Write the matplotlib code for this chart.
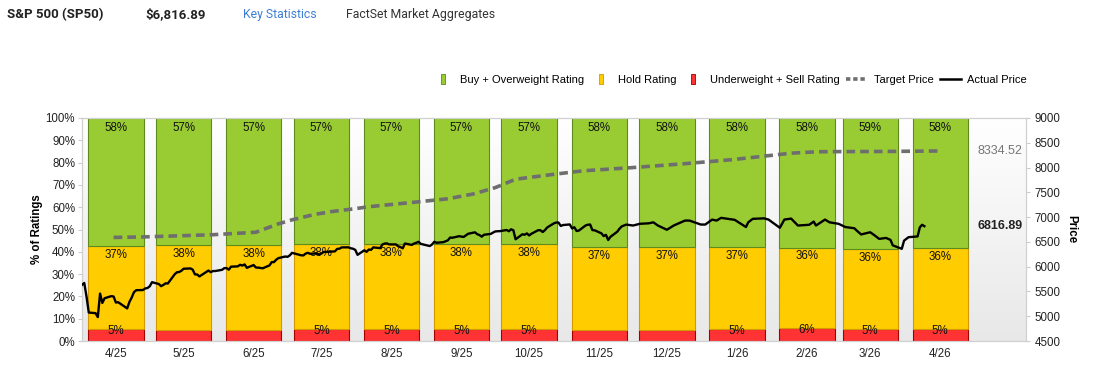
import matplotlib
matplotlib.use("Agg")
import matplotlib.pyplot as plt
import matplotlib.dates as mdates
from matplotlib.colors import LinearSegmentedColormap
from matplotlib.lines import Line2D
import numpy as np
import pandas as pd

# ratings per month (% of analysts)
month_labels = ["4/25", "5/25", "6/25", "7/25", "8/25", "9/25", "10/25",
                "11/25", "12/25", "1/26", "2/26", "3/26", "4/26"]
buy_pct = [57.6, 57.1, 57.1, 56.6, 56.6, 56.6, 56.6, 58.0, 58.0, 58.0, 58.1, 58.6, 58.4]
hold_pct = [37.2, 38.0, 38.1, 38.2, 38.2, 38.2, 38.2, 37.2, 37.2, 36.8, 36.2, 36.2, 36.4]
sell_pct = [5.2, 4.9, 4.8, 5.2, 5.2, 5.2, 5.2, 4.8, 4.8, 5.2, 5.7, 5.2, 5.2]

# actual price
price_dates = [
    "2025-04-01", "2025-04-02", "2025-04-03", "2025-04-04", "2025-04-07", "2025-04-08",
    "2025-04-09", "2025-04-10", "2025-04-11", "2025-04-14", "2025-04-15", "2025-04-16",
    "2025-04-17", "2025-04-21", "2025-04-22", "2025-04-23", "2025-04-24", "2025-04-25",
    "2025-04-28", "2025-04-29", "2025-04-30",
    "2025-05-01", "2025-05-02", "2025-05-05", "2025-05-06", "2025-05-07", "2025-05-08",
    "2025-05-09", "2025-05-12", "2025-05-13", "2025-05-14", "2025-05-15", "2025-05-16",
    "2025-05-19", "2025-05-20", "2025-05-21", "2025-05-22", "2025-05-23", "2025-05-27",
    "2025-05-28", "2025-05-29", "2025-05-30",
    "2025-06-02", "2025-06-03", "2025-06-04", "2025-06-05", "2025-06-06", "2025-06-09",
    "2025-06-10", "2025-06-11", "2025-06-12", "2025-06-13", "2025-06-16", "2025-06-17",
    "2025-06-18", "2025-06-20", "2025-06-23", "2025-06-24", "2025-06-25", "2025-06-26",
    "2025-06-27", "2025-06-30",
    "2025-07-01", "2025-07-02", "2025-07-03", "2025-07-07", "2025-07-08", "2025-07-09",
    "2025-07-10", "2025-07-11", "2025-07-14", "2025-07-15", "2025-07-16", "2025-07-17",
    "2025-07-18", "2025-07-21", "2025-07-22", "2025-07-23", "2025-07-24", "2025-07-25",
    "2025-07-28", "2025-07-29", "2025-07-30", "2025-07-31",
    "2025-08-01", "2025-08-04", "2025-08-05", "2025-08-06", "2025-08-07", "2025-08-08",
    "2025-08-11", "2025-08-12", "2025-08-13", "2025-08-14", "2025-08-15", "2025-08-18",
    "2025-08-19", "2025-08-20", "2025-08-21", "2025-08-22", "2025-08-25", "2025-08-26",
    "2025-08-27", "2025-08-28", "2025-08-29",
    "2025-09-02", "2025-09-03", "2025-09-04", "2025-09-05", "2025-09-08", "2025-09-09",
    "2025-09-10", "2025-09-11", "2025-09-12", "2025-09-15", "2025-09-16", "2025-09-17",
    "2025-09-18", "2025-09-19", "2025-09-22", "2025-09-23", "2025-09-24", "2025-09-25",
    "2025-09-26", "2025-09-29", "2025-09-30",
    "2025-10-01", "2025-10-02", "2025-10-03", "2025-10-06", "2025-10-07", "2025-10-08",
    "2025-10-09", "2025-10-10", "2025-10-13", "2025-10-14", "2025-10-15", "2025-10-16",
    "2025-10-17", "2025-10-20", "2025-10-21", "2025-10-22", "2025-10-23", "2025-10-24",
    "2025-10-27", "2025-10-28", "2025-10-29", "2025-10-30", "2025-10-31",
    "2025-11-03", "2025-11-04", "2025-11-05", "2025-11-06", "2025-11-07", "2025-11-10",
    "2025-11-11", "2025-11-12", "2025-11-13", "2025-11-14", "2025-11-17", "2025-11-18",
    "2025-11-19", "2025-11-20", "2025-11-21", "2025-11-24", "2025-11-25", "2025-11-26",
    "2025-11-28",
    "2025-12-01", "2025-12-04", "2025-12-08", "2025-12-10", "2025-12-12", "2025-12-16",
    "2025-12-19", "2025-12-24", "2025-12-26", "2025-12-31",
    "2026-01-02", "2026-01-05", "2026-01-07", "2026-01-09", "2026-01-12", "2026-01-15",
    "2026-01-20", "2026-01-21", "2026-01-23", "2026-01-28", "2026-01-30",
    "2026-02-04", "2026-02-06", "2026-02-09", "2026-02-12", "2026-02-17", "2026-02-19",
    "2026-02-20", "2026-02-24", "2026-02-26",
    "2026-03-02", "2026-03-05", "2026-03-09", "2026-03-10", "2026-03-12", "2026-03-16",
    "2026-03-18", "2026-03-20", "2026-03-23", "2026-03-25", "2026-03-26", "2026-03-30",
    "2026-03-31",
    "2026-04-02", "2026-04-06", "2026-04-07", "2026-04-08", "2026-04-09",
]
price_values = [
    5633, 5671, 5397, 5074, 5062, 4982, 5457, 5268, 5363, 5406, 5397, 5276,
    5283, 5158, 5288, 5376, 5485, 5525, 5529, 5561, 5569,
    5604, 5687, 5650, 5607, 5631, 5664, 5660, 5844, 5886, 5892, 5917, 5958,
    5964, 5941, 5845, 5842, 5803, 5922, 5889, 5912, 5912,
    5936, 5970, 5971, 5939, 6000, 6006, 6038, 6022, 6045, 5977, 6033, 5982,
    5981, 5967, 6025, 6092, 6092, 6141, 6173, 6205,
    6198, 6227, 6279, 6230, 6226, 6263, 6280, 6260, 6269, 6244, 6264, 6297,
    6297, 6306, 6309, 6359, 6363, 6389, 6390, 6371, 6362, 6339,
    6238, 6330, 6299, 6345, 6340, 6389, 6374, 6446, 6466, 6469, 6449, 6449,
    6411, 6396, 6370, 6467, 6439, 6466, 6481, 6502, 6460,
    6416, 6448, 6502, 6482, 6495, 6512, 6532, 6587, 6584, 6615, 6606, 6600,
    6631, 6664, 6693, 6656, 6638, 6605, 6644, 6661, 6688,
    6711, 6715, 6716, 6740, 6715, 6754, 6735, 6553, 6654, 6644, 6671, 6630,
    6664, 6736, 6735, 6699, 6738, 6792, 6875, 6891, 6890, 6822, 6840,
    6852, 6771, 6796, 6720, 6728, 6832, 6846, 6851, 6737, 6734, 6672, 6617,
    6642, 6538, 6603, 6705, 6766, 6813, 6849,
    6830, 6865, 6875, 6895, 6830, 6745, 6830, 6930, 6930, 6850,
    6850, 6950, 6930, 6985, 6965, 6945, 6800, 6895, 6965, 6975, 6950,
    6785, 6950, 6970, 6830, 6845, 6910, 6830, 6950, 6895,
    6865, 6800, 6775, 6730, 6650, 6695, 6630, 6560, 6580, 6540, 6430, 6360,
    6525,
    6595, 6610, 6795, 6845, 6816.89,
]

# consensus target price
target_dates = [
    "2025-04-15", "2025-04-28", "2025-05-29", "2025-06-17", "2025-06-27", "2025-07-03",
    "2025-07-13", "2025-07-21", "2025-07-31", "2025-08-06", "2025-08-26", "2025-09-10",
    "2025-09-21", "2025-10-01", "2025-10-10", "2025-10-28", "2025-11-09", "2025-12-01",
    "2025-12-23", "2026-01-14", "2026-02-09", "2026-02-21", "2026-03-22", "2026-04-16",
]
target_values = [
    6590, 6600, 6645, 6695, 6865, 6945, 7055, 7115, 7170, 7210, 7300, 7370,
    7465, 7595, 7765, 7870, 7935, 8000, 8075, 8160, 8290, 8320, 8325, 8334.52,
]

green, green_edge = "#99cc33", "#5f8a1c"
yellow, yellow_edge = "#ffcc00", "#d19a00"
red, red_edge = "#ff3333", "#a30000"
label_font = "Liberation Sans"

fig = plt.figure(figsize=(10.99, 3.76), dpi=100)
ax = fig.add_axes([82 / 1099, 35 / 376, 944 / 1099, 223 / 376])

# background gradient
bg = LinearSegmentedColormap.from_list("bg", ["#ffffff", "#e8e8e8"])
ax.imshow(np.linspace(0, 1, 256).reshape(-1, 1), cmap=bg, aspect="auto",
          extent=[0, 1, 0, 1], transform=ax.transAxes, zorder=0)

months = pd.date_range("2025-04-01", periods=len(month_labels), freq="MS")
centers = mdates.date2num(months + pd.Timedelta(days=15))
width = 24.5

ax.bar(centers, sell_pct, width, color=red, edgecolor=red_edge, linewidth=0.8, zorder=2)
ax.bar(centers, hold_pct, width, bottom=sell_pct, color=yellow, edgecolor=yellow_edge,
       linewidth=0.8, zorder=2)
bottoms = [s + h for s, h in zip(sell_pct, hold_pct)]
ax.bar(centers, buy_pct, width, bottom=bottoms, color=green, edgecolor=green_edge,
       linewidth=0.8, zorder=2)

for c, b, h, s in zip(centers, buy_pct, hold_pct, sell_pct):
    ax.text(c, 95.6, f"{b:.0f}%", ha="center", va="center", fontsize=8.3,
            family=label_font, color="#111", zorder=3)
    ax.text(c, s + h - 4.0, f"{h:.0f}%", ha="center", va="center", fontsize=8.3,
            family=label_font, color="#111", zorder=3)
    if s >= 5:
        ax.text(c, s - 0.7, f"{s:.0f}%", ha="center", va="center", fontsize=8.3,
                family=label_font, color="#111", zorder=3)

ax.set_xlim(mdates.date2num(pd.Timestamp("2025-04-01")),
            mdates.date2num(pd.Timestamp("2026-05-24")))
ax.set_ylim(0, 100)
ax.set_yticks(range(0, 101, 10))
ax.yaxis.set_major_formatter(lambda v, p: f"{v:.0f}%")
ax.set_xticks(centers)
ax.set_xticklabels(month_labels)
ax.tick_params(axis="x", length=0, pad=5)
ax.tick_params(axis="y", length=3, color="#cccccc", pad=2)
for lab in ax.get_xticklabels() + ax.get_yticklabels():
    lab.set_fontfamily(label_font)
    lab.set_fontsize(8.3)
    lab.set_color("#222")
ax.set_ylabel("% of Ratings", fontsize=8.3, fontweight="bold", family=label_font,
              labelpad=2)
for sp in ax.spines.values():
    sp.set_color("#d0d0d0")
    sp.set_linewidth(0.8)

# price axis
ax2 = ax.twinx()
ax2.plot(mdates.date2num(pd.to_datetime(target_dates)), target_values, color="#6e6e6e",
         lw=2.6, dashes=(2.4, 1.4), zorder=4)
ax2.plot(mdates.date2num(pd.to_datetime(price_dates)), price_values, color="black",
         lw=1.7, zorder=5)
ax2.set_ylim(4500, 9000)
ax2.set_yticks(range(4500, 9001, 500))
ax2.tick_params(axis="y", length=3, color="#cccccc", pad=3)
for lab in ax2.get_yticklabels():
    lab.set_fontfamily(label_font)
    lab.set_fontsize(8.3)
    lab.set_color("#222")
ax2.set_ylabel("Price", fontsize=8.3, fontweight="bold", family=label_font,
               rotation=270, labelpad=12)
for sp in ax2.spines.values():
    sp.set_color("#d0d0d0")
    sp.set_linewidth(0.8)

ax2.annotate(f"{target_values[-1]:.2f}", xy=(0.996, target_values[-1]),
             xycoords=("axes fraction", "data"), ha="right", va="center",
             fontsize=9, family=label_font, color="#777777")
ax2.annotate(f"{price_values[-1]:.2f}", xy=(0.996, price_values[-1]),
             xycoords=("axes fraction", "data"), ha="right", va="center",
             fontsize=9, family=label_font, fontweight="bold", color="#222")

# legend
def rect_marker():
    return [(-1.3, -3.5), (1.3, -3.5), (1.3, 3.5), (-1.3, 3.5), (-1.3, -3.5)]

handles = [
    Line2D([], [], ls="none", marker=rect_marker(), ms=6.5, mfc=green, mec=green_edge, mew=0.6),
    Line2D([], [], ls="none", marker=rect_marker(), ms=6.5, mfc=yellow, mec=yellow_edge, mew=0.6),
    Line2D([], [], ls="none", marker=rect_marker(), ms=6.5, mfc=red, mec=red_edge, mew=0.6),
    Line2D([], [], color="#6e6e6e", lw=2.6, dashes=(1.2, 0.8)),
    Line2D([], [], color="black", lw=1.8),
]
names = ["Buy + Overweight Rating", "Hold Rating", "Underweight + Sell Rating",
         "Target Price", "Actual Price"]
fig.legend(handles, names, loc="center right", bbox_to_anchor=(1027 / 1099, 1 - 80 / 376),
           ncol=5, frameon=False, handlelength=1.9, handletextpad=0.55,
           columnspacing=0.6, borderpad=0, borderaxespad=0,
           prop={"family": label_font, "size": 8})

# header
hy = 1 - 14.5 / 376
fig.text(7 / 1099, hy, "S&P 500 (SP50)", fontsize=9.5, fontweight="bold",
         family="Roboto", color="#222", va="center")
fig.text(145 / 1099, hy, "$6,816.89", fontsize=9.5, fontweight="bold",
         family="Roboto", color="#222", va="center")
fig.text(243 / 1099, hy, "Key Statistics", fontsize=8.8, family="Roboto",
         color="#3d7fd6", va="center")
fig.text(346 / 1099, hy, "FactSet Market Aggregates", fontsize=8.8, family="Roboto",
         color="#333", va="center")

fig.savefig("out.png", dpi=100)
